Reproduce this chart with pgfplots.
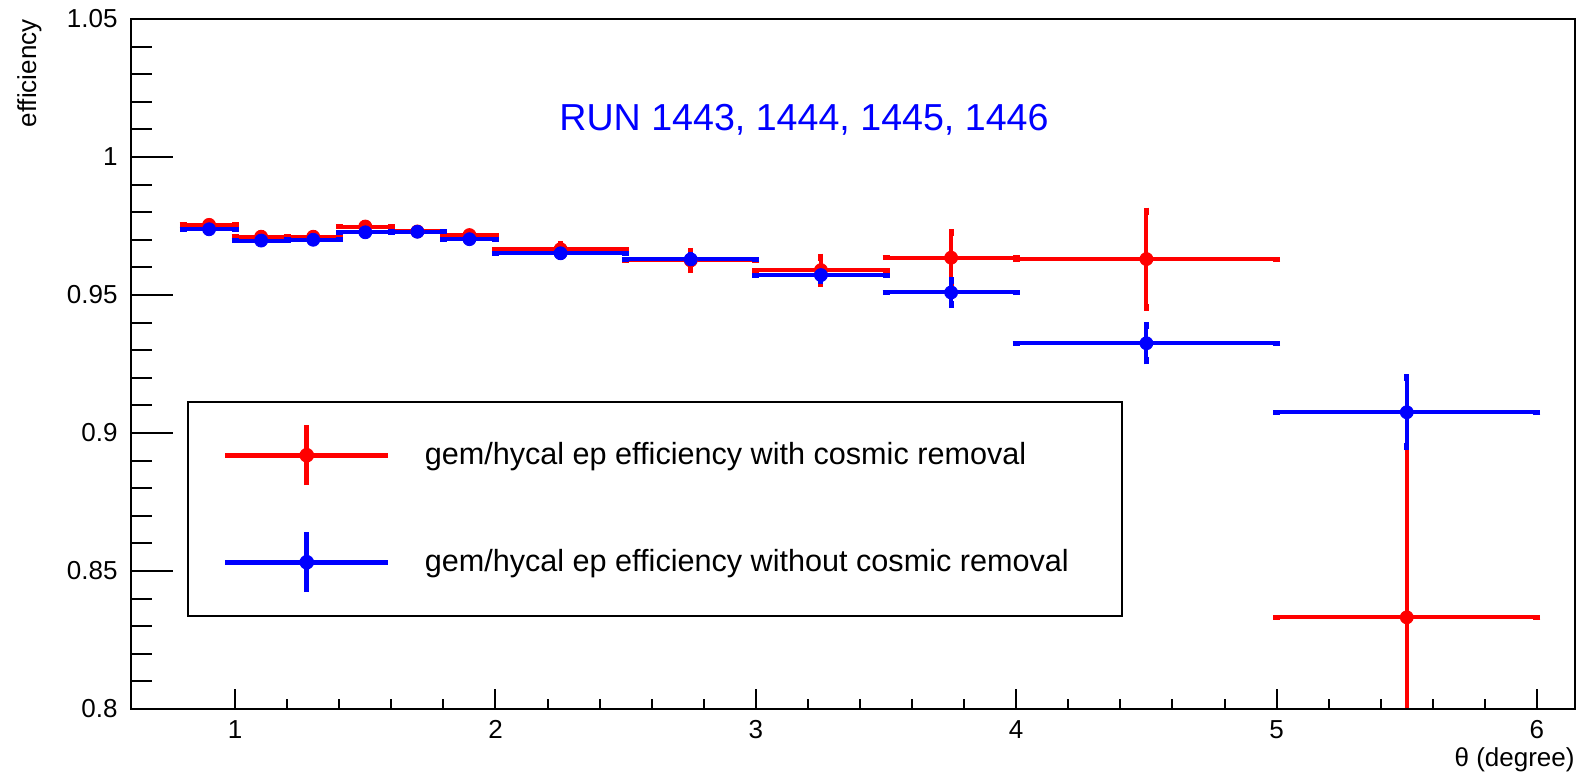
\documentclass[border=0pt]{standalone}
\usepackage{fontspec}
\setmainfont{Liberation Sans}
\usepackage{pgfplots}
\pgfplotsset{compat=1.18}

% measured bin contents (efficiency vs theta), half bin width and stat. error
\pgfplotstableread{
x     y       ex    ey
0.90  0.9754  0.10  0.0010
1.10  0.9711  0.10  0.0010
1.30  0.9711  0.10  0.0010
1.50  0.9748  0.10  0.0010
1.70  0.9730  0.10  0.0010
1.90  0.9717  0.10  0.0010
2.25  0.9666  0.25  0.0015
2.75  0.9625  0.25  0.0033
3.25  0.9590  0.25  0.0047
3.75  0.9635  0.25  0.0091
4.50  0.9630  0.50  0.0174
5.50  0.8332  0.50  0.0620
}\withcosmic
\pgfplotstableread{
x     y       ex    ey
0.90  0.9738  0.10  0.0008
1.10  0.9697  0.10  0.0008
1.30  0.9700  0.10  0.0008
1.50  0.9727  0.10  0.0008
1.70  0.9729  0.10  0.0008
1.90  0.9702  0.10  0.0008
2.25  0.9651  0.25  0.0012
2.75  0.9629  0.25  0.0015
3.25  0.9572  0.25  0.0020
3.75  0.9509  0.25  0.0043
4.50  0.9325  0.50  0.0064
5.50  0.9075  0.50  0.0125
}\withoutcosmic

\pgfplotsset{
  rootframe/.style={
    width=722pt, height=345pt, scale only axis,
    xmin=0.6, xmax=6.146, ymin=0.8, ymax=1.05,
    axis line style={line width=1pt},
    tick style={line width=1pt, black},
    tick align=inside,
    minor tick num=4,
    /pgf/number format/assume math mode=true,
    tick label style={font=\fontsize{13}{15}\selectfont},
  },
  errstyle/.style={
    only marks, mark=*, mark size=3.25pt,
    mark options={draw=#1, fill=#1},
    /pgfplots/error bars/x dir=both,
    /pgfplots/error bars/x explicit,
    /pgfplots/error bars/y dir=both,
    /pgfplots/error bars/y explicit,
    /pgfplots/error bars/error bar style={line width=2pt, #1},
    /pgfplots/error bars/error mark options={line width=2.5pt, mark size=1.75pt, #1},
  },
  errlegend/.style={
    legend image code/.code={
      \draw[#1, line width=2.5pt] (0pt,0pt) -- (81.5pt,0pt);
      \draw[#1, line width=2.5pt] (40.75pt,-15pt) -- (40.75pt,15pt);
      \fill[#1] (40.75pt,0pt) circle (3.25pt);
    },
  },
}

\begin{document}
\begin{tikzpicture}
% x ticks, data, legend
\begin{axis}[
  rootframe,
  xtick={1,2,3,4,5,6},
  xtick pos=lower,
  ytick=\empty,
  major tick length=10pt,
  minor tick length=5pt,
  xticklabel style={inner sep=0pt, yshift=-5.5pt},
  xlabel={θ (degree)},
  xlabel style={at={(rel axis cs:1,-0.055)}, anchor=north east, inner sep=0pt,
    font=\fontsize{13}{15}\selectfont},
  legend cell align=left,
  legend style={at={(axis cs:0.815,0.9116)}, anchor=north west,
    draw=black, line width=0.8pt,
    inner xsep=17.5pt, inner ysep=10.5pt,
    row sep=21pt, column sep=17pt,
    nodes={inner sep=0pt},
    font=\fontsize{15.3}{18}\selectfont},
]
\addplot[errlegend=red, errstyle=red]
  table[x=x, y=y, x error=ex, y error=ey] {\withcosmic};
\addlegendentry{gem/hycal ep efficiency with cosmic removal}
\addplot[errlegend=blue, errstyle=blue]
  table[x=x, y=y, x error=ex, y error=ey] {\withoutcosmic};
\addlegendentry{gem/hycal ep efficiency without cosmic removal\hspace*{9pt}}

\node[text=blue, font=\fontsize{18.8}{22}\selectfont]
  at (axis cs:3.185,1.0134) {RUN 1443, 1444, 1445, 1446};

\coordinate (bbsw) at (rel axis cs:-0.0907,-0.0942);
\coordinate (bbne) at (rel axis cs:1.0035,1.0275);
\end{axis}

% y ticks and label (longer ticks than on x)
\begin{axis}[
  rootframe,
  xtick=\empty,
  ytick={0.8,0.85,0.9,0.95,1,1.05},
  ytick pos=left,
  major tick length=21pt,
  minor tick length=10.5pt,
  yticklabel style={inner sep=0pt, xshift=-6.5pt},
  ylabel={efficiency},
  ylabel style={at={(rel axis cs:-0.0616,1)}, anchor=south east, inner sep=0pt,
    font=\fontsize{13}{15}\selectfont},
]
\end{axis}

\path (bbsw) rectangle (bbne);
\end{tikzpicture}
\end{document}
